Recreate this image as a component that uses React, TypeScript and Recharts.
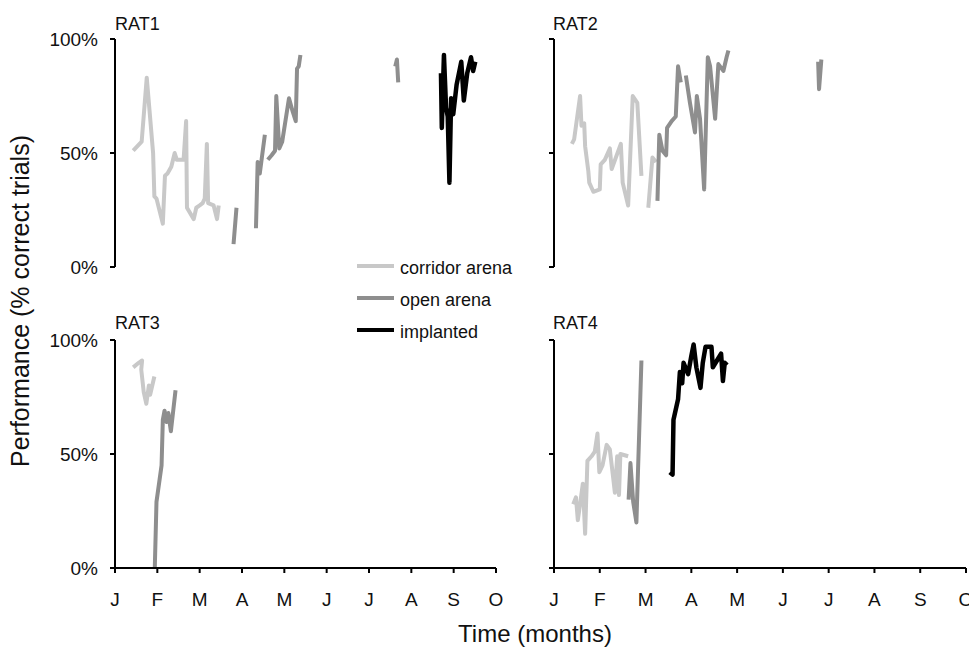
import { LineChart, Line, XAxis, YAxis } from 'recharts'

// [month since January, % correct]; null breaks the line between sessions
type Pt = [number, number | null]

const MONTHS = ['J', 'F', 'M', 'A', 'M', 'J', 'J', 'A', 'S', 'O']
const MONTH_TICKS = [0, 1, 2, 3, 4, 5, 6, 7, 8, 9]
const PCT_TICKS = [0, 50, 100]

const RAT1_CORRIDOR: Pt[] = [
  [0.43, 51], [0.63, 55], [0.75, 83], [0.9, 50], [0.93, 31], [0.98, 30],
  [1.13, 19], [1.18, 40], [1.24, 41], [1.33, 44], [1.41, 50], [1.46, 47],
  [1.62, 47], [1.68, 64], [1.7, 26], [1.86, 21], [1.92, 26], [2.0, 27],
  [2.07, 28], [2.12, 30], [2.17, 54], [2.2, 28], [2.33, 27], [2.41, 21],
  [2.45, 27],
]
const RAT1_OPEN: Pt[] = [
  [2.8, 10], [2.87, 26], [3.0, null],
  [3.33, 17], [3.37, 46], [3.42, 41], [3.54, 58], [3.58, null],
  [3.61, 47], [3.7, 49], [3.78, 51], [3.81, 75], [3.88, 52], [3.95, 55],
  [4.11, 74], [4.2, 68], [4.27, 64], [4.3, 87], [4.34, 88], [4.38, 93],
  [5.5, null],
  [6.62, 88], [6.66, 91], [6.69, 81],
]
const RAT1_IMPLANTED: Pt[] = [
  [7.7, 85], [7.72, 61], [7.77, 93], [7.82, 70], [7.86, 66], [7.9, 37],
  [7.94, 74], [7.99, 67], [8.07, 80], [8.18, 90], [8.24, 73], [8.32, 85],
  [8.41, 92], [8.46, 86], [8.51, 90],
]

const RAT2_CORRIDOR: Pt[] = [
  [0.39, 54], [0.44, 56], [0.57, 75], [0.6, 62], [0.66, 63], [0.68, 53],
  [0.75, 42], [0.77, 37], [0.86, 33], [1.0, 34], [1.02, 45], [1.11, 47],
  [1.22, 52], [1.26, 43], [1.46, 54], [1.5, 37], [1.62, 27], [1.72, 75],
  [1.82, 72], [1.91, 40], [1.98, null],
  [2.06, 26], [2.15, 48], [2.23, 46],
]
const RAT2_OPEN: Pt[] = [
  [2.26, 29], [2.3, 58], [2.37, 51], [2.45, 49], [2.47, 61], [2.57, 64],
  [2.66, 66], [2.71, 88], [2.77, 81], [2.82, null],
  [2.88, 84], [2.97, 72], [3.08, 59], [3.12, 75], [3.19, 65], [3.28, 34],
  [3.36, 92], [3.41, 88], [3.52, 65], [3.59, 89], [3.7, 86], [3.77, 92],
  [3.81, 95], [4.8, null],
  [5.77, 90], [5.79, 78], [5.84, 91],
]

const RAT3_CORRIDOR: Pt[] = [
  [0.43, 88], [0.56, 90], [0.64, 91], [0.62, 87], [0.68, 77], [0.74, 72],
  [0.8, 80], [0.83, 76], [0.93, 84],
]
const RAT3_OPEN: Pt[] = [
  [0.94, 0], [0.98, 29], [1.1, 45], [1.13, 65], [1.17, 69], [1.22, 64],
  [1.26, 68], [1.32, 60], [1.43, 78],
]

const RAT4_CORRIDOR: Pt[] = [
  [0.42, 28], [0.48, 31], [0.52, 21], [0.57, 28], [0.63, 37], [0.68, 15],
  [0.73, 47], [0.82, 49], [0.89, 51], [0.95, 59], [0.99, 42], [1.06, 45],
  [1.15, 54], [1.22, 52], [1.29, 40], [1.33, 33], [1.38, 49], [1.42, 32],
  [1.45, 50], [1.62, 49],
]
const RAT4_OPEN: Pt[] = [
  [1.63, 30], [1.67, 46], [1.73, 29], [1.8, 20], [1.91, 91],
]
const RAT4_IMPLANTED: Pt[] = [
  [2.53, 42], [2.59, 41], [2.61, 65], [2.71, 74], [2.75, 86], [2.8, 81],
  [2.83, 90], [2.93, 85], [3.0, 93], [3.05, 98], [3.11, 88], [3.2, 79],
  [3.25, 90], [3.31, 97], [3.44, 97], [3.47, 88], [3.56, 91], [3.65, 94],
  [3.69, 82], [3.73, 90], [3.78, 89],
]

const COLORS = {
  corridor: '#c8c8c8',
  open: '#8e8e8e',
  implanted: '#000000',
}

const FONT = '"Liberation Sans", Arial, sans-serif'

function toRows(pts: Pt[]) {
  return pts.map(([m, v]) => ({ m, v }))
}

interface PanelProps {
  left: number
  top: number
  width: number
  height: number
  yWidth: number
  margin: { top: number; right: number; bottom: number; left: number }
  showX: boolean
  showYLabels: boolean
  corridor?: Pt[]
  open?: Pt[]
  implanted?: Pt[]
}

function Panel(p: PanelProps) {
  const series = [
    { key: 'corridor', pts: p.corridor, color: COLORS.corridor, w: 4 },
    { key: 'open', pts: p.open, color: COLORS.open, w: 4 },
    { key: 'implanted', pts: p.implanted, color: COLORS.implanted, w: 4.5 },
  ]
  return (
    <div style={{ position: 'absolute', left: p.left, top: p.top }}>
      <LineChart width={p.width} height={p.height} margin={p.margin}>
        <XAxis
          type="number"
          dataKey="m"
          domain={[0, 9]}
          allowDataOverflow
          ticks={MONTH_TICKS}
          interval={0}
          hide={!p.showX}
          height={50}
          tickFormatter={(i: number) => MONTHS[i]}
          tickSize={5}
          tickMargin={20}
          axisLine={{ stroke: '#000', strokeWidth: 2 }}
          tickLine={{ stroke: '#000', strokeWidth: 2 }}
          tick={{ fill: '#111', fontSize: 19, fontFamily: FONT }}
        />
        <YAxis
          type="number"
          domain={[0, 100]}
          allowDataOverflow
          ticks={PCT_TICKS}
          interval={0}
          width={p.yWidth}
          tickSize={5}
          tickMargin={12}
          tickFormatter={(v: number) => (p.showYLabels ? `${v}%` : '')}
          axisLine={{ stroke: '#000', strokeWidth: 2 }}
          tickLine={{ stroke: '#000', strokeWidth: 2 }}
          tick={{ fill: '#111', fontSize: 19, fontFamily: FONT }}
        />
        {series
          .filter((s) => s.pts)
          .map((s) => (
            <Line
              key={s.key}
              data={toRows(s.pts as Pt[])}
              dataKey="v"
              type="linear"
              stroke={s.color}
              strokeWidth={s.w}
              strokeLinejoin="round"
              dot={false}
              activeDot={false}
              connectNulls={false}
              isAnimationActive={false}
            />
          ))}
      </LineChart>
    </div>
  )
}

const LEGEND = [
  { label: 'corridor arena', color: COLORS.corridor, y: 266 },
  { label: 'open arena', color: COLORS.open, y: 298 },
  { label: 'implanted', color: COLORS.implanted, y: 330 },
]

export default function App() {
  // left panels are a bit wider than 500 so the "O" tick label is not clipped
  const leftTop = { top: 39, right: 18, bottom: 13, left: 0 }
  const leftBot = { top: 40, right: 18, bottom: 30, left: 0 }
  const rightTop = { top: 39, right: 3, bottom: 13, left: 0 }
  const rightBot = { top: 40, right: 3, bottom: 30, left: 0 }
  return (
    <div
      style={{
        position: 'absolute',
        left: 0,
        top: 0,
        width: 969,
        height: 648,
        overflow: 'hidden',
        background: '#fff',
        fontFamily: FONT,
      }}
    >
      <Panel left={0} top={0} width={514} height={280} yWidth={115} margin={leftTop}
        showX={false} showYLabels corridor={RAT1_CORRIDOR} open={RAT1_OPEN} implanted={RAT1_IMPLANTED} />
      <Panel left={0} top={300} width={514} height={348} yWidth={115} margin={leftBot}
        showX showYLabels corridor={RAT3_CORRIDOR} open={RAT3_OPEN} />
      <Panel left={500} top={0} width={469} height={280} yWidth={54} margin={rightTop}
        showX={false} showYLabels={false} corridor={RAT2_CORRIDOR} open={RAT2_OPEN} />
      <Panel left={500} top={300} width={469} height={348} yWidth={54} margin={rightBot}
        showX showYLabels={false} corridor={RAT4_CORRIDOR} open={RAT4_OPEN} implanted={RAT4_IMPLANTED} />

      <svg width={969} height={648} style={{ position: 'absolute', left: 0, top: 0, pointerEvents: 'none' }}>
        <g fontFamily={FONT} fill="#111">
          <text x={115} y={30} fontSize={18}>RAT1</text>
          <text x={553} y={30} fontSize={18}>RAT2</text>
          <text x={115} y={329} fontSize={18}>RAT3</text>
          <text x={553} y={329} fontSize={18}>RAT4</text>
          {LEGEND.map((l) => (
            <g key={l.label}>
              <line x1={357} x2={394} y1={l.y} y2={l.y} stroke={l.color} strokeWidth={4} />
              <text x={400} y={l.y + 8} fontSize={18}>{l.label}</text>
            </g>
          ))}
          <text x={535} y={642} fontSize={24} textAnchor="middle">Time (months)</text>
          <text transform="translate(29,301) rotate(-90)" fontSize={25} textAnchor="middle">
            Performance (% correct trials)
          </text>
        </g>
      </svg>
    </div>
  )
}
